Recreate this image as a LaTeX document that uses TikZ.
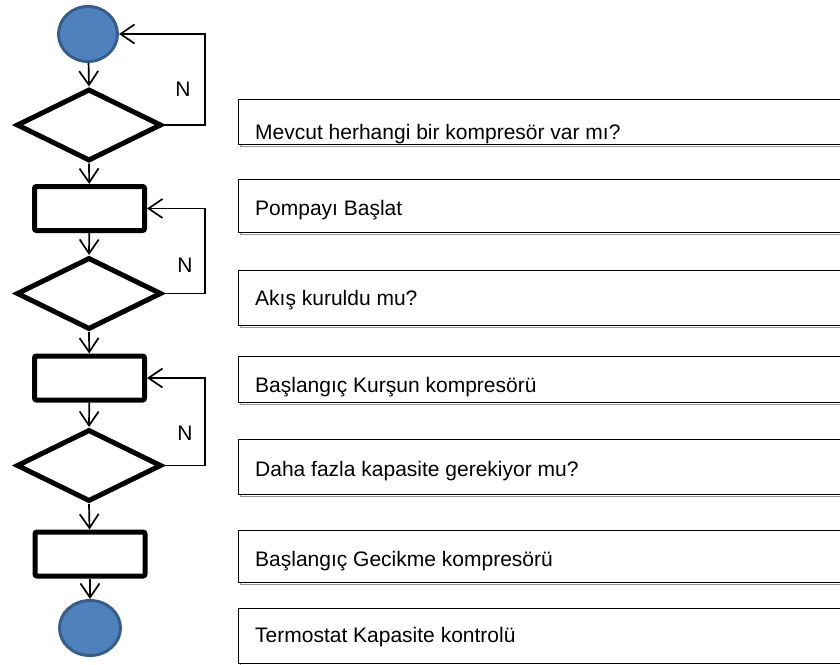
\documentclass[tikz,border=0pt]{standalone}
\usepackage{fontspec}
\setmainfont{Liberation Sans}
\usetikzlibrary{shapes.geometric,arrows.meta}
\definecolor{cfill}{RGB}{79,129,189}
\definecolor{cline}{RGB}{56,93,138}
\definecolor{shadowgray}{RGB}{150,150,150}
\begin{document}
\begin{tikzpicture}[x=1pt,y=-1pt,
  term/.style={ellipse, draw=cline, fill=cfill, line width=3pt, minimum width=59pt, minimum height=55pt, inner sep=0pt},
  dec/.style={diamond, draw, line width=5pt, minimum width=145pt, minimum height=72pt, inner sep=0pt, aspect=2},
  proc/.style={rectangle, draw, line width=5pt, rounded corners=2pt, minimum width=110pt, minimum height=44pt, inner sep=0pt},
  conn/.style={line width=1.7pt, -{Straight Barb[length=14pt,width=19pt,line width=1.7pt]}},
  lbl/.style={font=\fontsize{21}{25}\selectfont, inner sep=0pt},
  info/.style={draw, line width=1.4pt, rectangle, minimum width=620pt, anchor=north west, inner sep=0pt},
  infotext/.style={lbl, anchor=base west},
]
\useasboundingbox (0,0) rectangle (840,664);

% flowchart shapes
\node[term] (c1) at (88,34) {};
\node[dec]  (d1) at (89,125) {};
\node[proc] (r1) at (89.5,208.5) {};
\node[dec]  (d2) at (89,293.5) {};
\node[proc] (r2) at (89.5,378) {};
\node[dec]  (d3) at (89,465.5) {};
\node[proc] (r3) at (90,554) {};
\node[term, minimum width=61pt] (c2) at (90,628) {};

% main flow
\draw[conn] (c1) -- (d1.north);
\draw[conn] (d1.south) -- (r1);
\draw[conn] (r1) -- (d2.north);
\draw[conn] (d2.south) -- (r2);
\draw[conn] (r2) -- (d3.north);
\draw[conn] (d3.south) -- (r3);
\draw[conn] (r3) -- (c2);

% loops
\coordinate (k1) at (205,125);
\coordinate (k2) at (205,293.5);
\coordinate (k3) at (205,465.5);
\draw[conn] (d1.east) -- (k1) |- (c1.east);
\draw[conn] (d2.east) -- (k2) |- (r1.east);
\draw[conn] (d3.east) -- (k3) |- (r2.east);
\node[lbl] (n1) at (183,89) {N};
\node[lbl] (n2) at (185,265) {N};
\node[lbl] (n3) at (185,433) {N};

% information boxes (shadow then box)
\foreach \t/\h [count=\i] in {99/45, 179/53, 270/55, 356/46, 439/55, 530/52, 608/55}{
  \node[info, draw=shadowgray, minimum height=\h pt] at (239.5,\t+1.5) {};
}
\node[info, fill=white, minimum height=45pt] (b1) at (238,99) {};
\node[info, fill=white, minimum height=53pt] (b2) at (238,179) {};
\node[info, fill=white, minimum height=55pt] (b3) at (238,270) {};
\node[info, fill=white, minimum height=46pt] (b4) at (238,356) {};
\node[info, fill=white, minimum height=55pt] (b5) at (238,439) {};
\node[info, fill=white, minimum height=52pt] (b6) at (238,530) {};
\node[info, fill=white, minimum height=55pt] (b7) at (238,608) {};

\node[infotext] (t1) at (255,139) {Mevcut herhangi bir kompresör var mı?};
\node[infotext] (t2) at (255,215) {Pompayı Başlat};
\node[infotext] (t3) at (255,305) {Akış kuruldu mu?};
\node[infotext] (t4) at (255,392) {Başlangıç Kurşun kompresörü};
\node[infotext] (t5) at (255,476) {Daha fazla kapasite gerekiyor mu?};
\node[infotext] (t6) at (255,566) {Başlangıç Gecikme kompresörü};
\node[infotext] (t7) at (255,642) {Termostat Kapasite kontrolü};
\end{tikzpicture}
\end{document}
